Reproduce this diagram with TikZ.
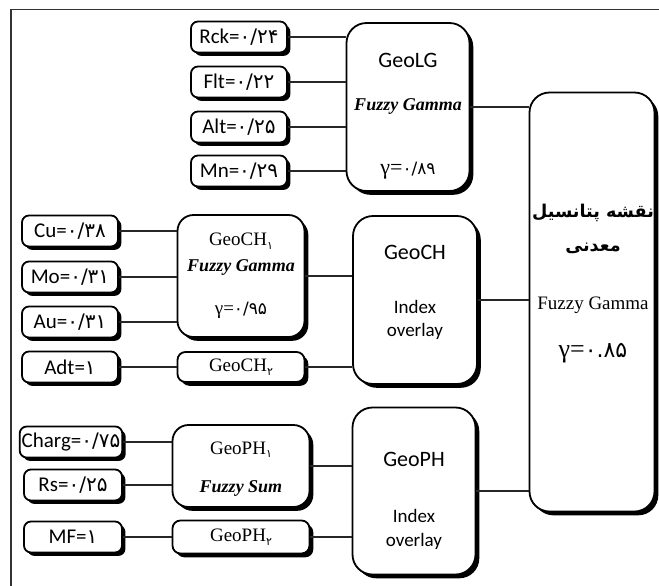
\documentclass[tikz,border=0pt]{standalone}
\usepackage{fontspec}
\setmainfont{Liberation Serif}
\setsansfont{Carlito}
\newfontfamily\fadig{DejaVu Sans}
\newfontfamily\farsi[Script=Arabic]{DejaVu Sans}
\TeXXeTstate=1
\usepackage{tikz}
\usetikzlibrary{positioning, shadows}

\tikzstyle{inp}=[shape=rectangle,
                 draw=black,
                 fill=white,
                 line width=0.9pt,
                 rounded corners=3.5pt,
                 minimum height=15.5pt,
                 minimum width=48pt,
                 inner sep=1pt,
                 drop shadow={shadow xshift=1.7pt, shadow yshift=-1.7pt, fill=black, opacity=1},
                 font=\sffamily\fontsize{10.5}{12}\selectfont]
\tikzstyle{grp}=[shape=rectangle,
                 draw=black,
                 fill=white,
                 line width=0.9pt,
                 rounded corners=9pt,
                 align=center,
                 inner sep=2pt,
                 drop shadow={shadow xshift=1.9pt, shadow yshift=-1.9pt, fill=black, opacity=1},
                 font=\sffamily\fontsize{11}{13}\selectfont]
\tikzstyle{conn}=[line width=0.8pt, draw=black!85]

\newcommand{\fa}[1]{{\fadig\fontsize{10}{12}\selectfont #1}}
\newcommand{\fasub}[1]{\raisebox{-0.4ex}{\fadig\fontsize{5.5}{6}\selectfont #1}}
\newcommand{\fz}[1]{{\rmfamily\bfseries\itshape\fontsize{9}{11}\selectfont #1}}
\newcommand{\gm}[1]{{\rmfamily γ=}{\fadig\fontsize{8.5}{10}\selectfont #1}}

\begin{document}
\begin{tikzpicture}[x=0.5pt, y=-0.5pt]
\useasboundingbox (0,0) rectangle (659,585);

% frame
\draw[line width=0.7pt, black!80] (11,600) -- (11,9.5) -- (680,9.5);

% final map
\node[grp, rounded corners=10pt, minimum width=62.5pt, minimum height=209.5pt] (pot) at (592,302) {};
\node[align=center, font=\rmfamily\fontsize{9.5}{13}\selectfont] (pottxt) at (593,284)
  {{\farsi\bfseries\fontsize{8.8}{13}\selectfont\beginR نقشه پتانسیل\endR}\\[4pt]
   {\farsi\bfseries\fontsize{8.8}{13}\selectfont\beginR معدنی\endR}\\[16pt]
   Fuzzy Gamma\\[11pt]
   {\fontsize{13}{13}\selectfont γ=}{\fadig\fontsize{11}{13}\selectfont ۰.۸۵}};

% GeoLG
\node[grp, rounded corners=10pt, minimum width=61.5pt, minimum height=84pt] (geolg) at (408,107)
  {\rule{0pt}{16.5pt}GeoLG\\[8.5pt]\fz{Fuzzy Gamma}\\[19pt]\gm{۰/۸۹}};
\node[inp] (rck) at (239,37)  {Rck=\fa{۰/۲۴}};
\node[inp] (flt) at (239,82)  {Flt=\fa{۰/۲۲}};
\node[inp] (alt) at (239,127) {Alt=\fa{۰/۲۵}};
\node[inp] (mn)  at (239,171) {Mn=\fa{۰/۲۹}};

% GeoCH
\node[grp, rounded corners=10pt, minimum width=62pt, minimum height=84pt] (geoch) at (415,300)
  {GeoCH\\[14pt]{\fontsize{9.5}{11}\selectfont Index}\\[-1.5pt]{\fontsize{9.5}{11}\selectfont overlay}\rule[-9pt]{0pt}{0pt}};
\node[grp, rounded corners=8pt, minimum width=63.5pt, minimum height=61pt, font=\rmfamily\fontsize{9.5}{11}\selectfont] (geoch1) at (241,276)
  {GeoCH\fasub{۱}\\[2pt]\fz{Fuzzy Gamma}\\[10.5pt]\gm{۰/۹۵}};
\node[grp, rounded corners=4pt, minimum width=63.5pt, minimum height=15pt, font=\rmfamily\fontsize{9.5}{11}\selectfont] (geoch2) at (241,367)
  {GeoCH\fasub{۲}};
\node[inp] (cu)  at (70,231) {Cu=\fa{۰/۳۸}};
\node[inp] (mo)  at (70,277) {Mo=\fa{۰/۳۱}};
\node[inp] (au)  at (70,322) {Au=\fa{۰/۳۱}};
\node[inp] (adt) at (70,367) {Adt=\fa{۱}};

% GeoPH
\node[grp, rounded corners=10pt, minimum width=61.5pt, minimum height=83.5pt] (geoph) at (414,491)
  {\rule{0pt}{17pt}GeoPH\\[15pt]{\fontsize{9.5}{11}\selectfont Index}\\[-1pt]{\fontsize{9.5}{11}\selectfont overlay}};
\node[grp, rounded corners=8pt, minimum width=68.5pt, minimum height=41pt, font=\rmfamily\fontsize{9.5}{11}\selectfont] (geoph1) at (241,466)
  {\rule{0pt}{9pt}GeoPH\fasub{۱}\\[8pt]\fz{Fuzzy Sum}};
\node[grp, rounded corners=4pt, minimum width=68.5pt, minimum height=16.5pt, font=\rmfamily\fontsize{9.5}{11}\selectfont] (geoph2) at (241,537)
  {GeoPH\fasub{۲}};
\node[inp, minimum width=49pt] (charg) at (71,442) {Charg=\fa{۰/۷۵}};
\node[inp, minimum width=49pt] (rs)    at (73,485) {Rs=\fa{۰/۲۵}};
\node[inp, minimum width=49pt] (mf)    at (73,537) {MF=\fa{۱}};

% links into the groups
\path[conn] (rck) edge (rck -| geolg.west)
            (flt) edge (flt -| geolg.west)
            (alt) edge (alt -| geolg.west)
            (mn)  edge (mn -| geolg.west);
\path[conn] (cu) edge (cu -| geoch1.west)
            (mo) edge (mo -| geoch1.west)
            (au) edge (au -| geoch1.west)
            (adt) edge (geoch2);
\path[conn] (charg) edge (charg -| geoph1.west)
            (rs) edge (rs -| geoph1.west)
            (mf) edge (geoph2);
\path[conn] (geoch1) edge (geoch1 -| geoch.west)
            (geoch2) edge (geoch2 -| geoch.west)
            (geoph1) edge (geoph1 -| geoph.west)
            (geoph2) edge (geoph2 -| geoph.west);

% links into the map
\path[conn] (geolg) edge (geolg -| pot.west)
            (geoch) edge (geoch -| pot.west)
            (geoph) edge (geoph -| pot.west);

\end{tikzpicture}
\end{document}
